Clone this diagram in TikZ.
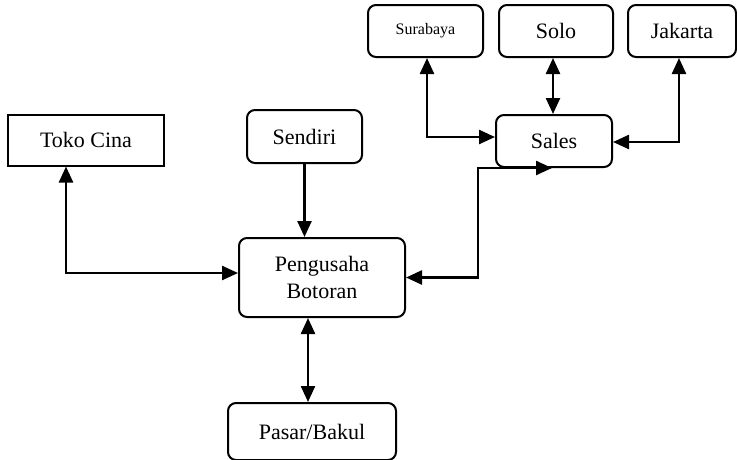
\documentclass[tikz,border=0pt]{standalone}
\usepackage{fontspec}
\setmainfont{Liberation Serif}
\usetikzlibrary{arrows.meta}
\begin{document}
\begin{tikzpicture}[x=1pt,y=-1pt,
  box/.style={draw,line width=2pt,inner sep=0pt,align=center,
    font=\fontsize{22}{25}\selectfont},
  rbox/.style={box,rounded corners=8pt},
  conn/.style={line width=2.4pt,{Triangle[length=16pt,width=14pt]}-{Triangle[length=16pt,width=14pt]}},
  oneway/.style={line width=2.4pt,-{Triangle[length=16pt,width=14pt]}}]
\useasboundingbox (0,0) rectangle (737,459);
% boxes
\node[box,minimum width=156pt,minimum height=51pt] (toko) at (86,140) {Toko Cina};
\node[rbox,minimum width=115pt,minimum height=53pt] (sendiri) at (304.5,136.5) {Sendiri};
\node[rbox,minimum width=166pt,minimum height=79pt] (peng) at (322,277.5) {Pengusaha\\[2pt]Botoran};
\node[rbox,minimum width=168pt,minimum height=57pt] (pasar) at (312,431.5) {Pasar/Bakul};
\node[rbox,minimum width=115pt,minimum height=52pt,font=\fontsize{16}{18}\selectfont] (sura) at (425.5,31) {Surabaya};
\node[rbox,minimum width=114pt,minimum height=52pt] (solo) at (556,31) {Solo};
\node[rbox,minimum width=108pt,minimum height=52pt] (jak) at (682,31) {Jakarta};
\node[rbox,minimum width=116pt,minimum height=52pt] (sales) at (554,141) {Sales};
% connectors
\draw[conn] ([xshift=-20pt]toko.south) |- ([yshift=4.5pt]peng.west);
\draw[oneway] (sendiri.south) -- (sendiri.south |- peng.north);
\draw[conn] ([xshift=-14pt]peng.south) -- ([xshift=-4pt]pasar.north);
\draw[conn] (peng.east) -| ([xshift=-76pt]sales.south) -- ([xshift=-2pt]sales.south);
\draw[conn] ([xshift=1.5pt]sura.south) |- ([yshift=4pt]sales.west);
\draw[conn] ([xshift=-3pt]solo.south) -- ([xshift=-1pt]sales.north);
\draw[conn] ([xshift=-3pt]jak.south) |- ([yshift=-1pt]sales.east);
\end{tikzpicture}
\end{document}
